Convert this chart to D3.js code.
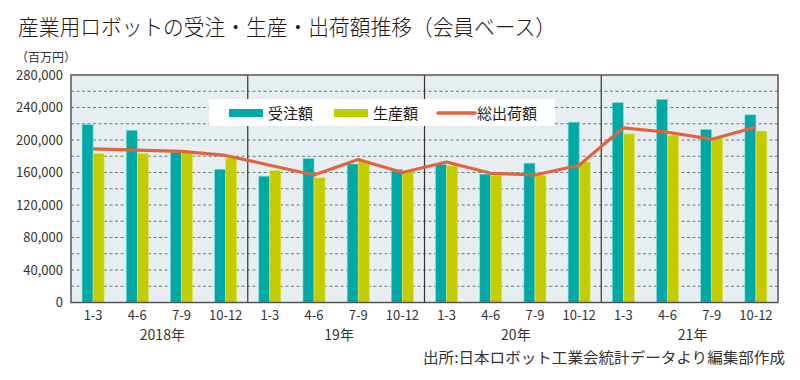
<!DOCTYPE html>
<html><head><meta charset="utf-8">
<script src="https://cdn.jsdelivr.net/npm/d3@7"></script>
<style>
html,body{margin:0;padding:0;background:#fff;}
text{font-family:"Noto Sans CJK JP","Noto Sans",sans-serif;}
</style></head>
<body><svg id="c" width="800" height="380"></svg>
<script>
const quarters = ["1-3","4-6","7-9","10-12","1-3","4-6","7-9","10-12","1-3","4-6","7-9","10-12","1-3","4-6","7-9","10-12"];
const years = ["2018年","19年","20年","21年"];
const orders = [219000,212000,185000,164000,155500,177000,170500,164000,170000,158000,171500,222000,246000,250000,213000,231000];
const production = [183500,183500,185000,178000,162500,153500,174000,161500,168500,156500,156500,173000,207500,206000,203000,211000];
const shipments = [189000,187500,186000,181000,169000,157000,176000,160000,173000,159000,157000,169000,215000,209500,201000,216000];
const yTicks = [0,40000,80000,120000,160000,200000,240000,280000];
const seriesNames = ["受注額","生産額","総出荷額"];
const colors = {orders:"#00a9a5", production:"#c4cc00", line:"#e2643e"};

const svg = d3.select("#c");
const L = 71, R = 778, T = 75, B = 302.5;
const idx = d3.range(quarters.length);
const x = d3.scaleBand().domain(idx).range([L, R]).paddingInner(0).paddingOuter(0);
const y = d3.scaleLinear().domain([0, 280000]).range([B, T]);

// title
svg.append("text").attr("x",18).attr("y",35).attr("font-size",22).attr("font-weight",300).attr("fill","#231815")
  .attr("textLength",538).attr("lengthAdjust","spacingAndGlyphs")
  .text("産業用ロボットの受注・生産・出荷額推移（会員ベース）");
svg.append("text").attr("x",16).attr("y",62).attr("font-size",12).attr("fill","#333")
  .text("（百万円）");

// plot background
svg.append("rect").attr("x",L).attr("y",T).attr("width",R-L).attr("height",B-T).attr("fill","#e6eef2");

// gridlines every 20000
const grid = d3.range(20000, 280000, 20000);
svg.append("g").selectAll("line").data(grid).join("line")
  .attr("x1",L).attr("x2",R).attr("y1",d=>y(d)).attr("y2",d=>y(d))
  .attr("stroke","#555").attr("stroke-width",0.8).attr("stroke-dasharray","3,2.5");

// y axis labels
const yAxis = d3.axisLeft(y).tickValues(yTicks).tickSize(0).tickPadding(8).tickFormat(d3.format(","));
const ga = svg.append("g").attr("transform",`translate(${L},0)`).call(yAxis);
ga.select(".domain").remove();
ga.selectAll("text").attr("font-size",13).attr("fill","#333").attr("font-family","'Liberation Sans',Arial,sans-serif");

// bars
const bw = x.bandwidth()*0.25;
const g = svg.append("g");
g.selectAll("rect.o").data(orders).join("rect").attr("class","o")
  .attr("x",(d,i)=>x(i)+x.bandwidth()/2-bw).attr("width",bw)
  .attr("y",d=>y(d)).attr("height",d=>B-y(d))
  .attr("fill",colors.orders).attr("stroke","#7fe3e0").attr("stroke-width",0.6);
g.selectAll("rect.p").data(production).join("rect").attr("class","p")
  .attr("x",(d,i)=>x(i)+x.bandwidth()/2).attr("width",bw)
  .attr("y",d=>y(d)).attr("height",d=>B-y(d))
  .attr("fill",colors.production).attr("stroke","#e3ea6a").attr("stroke-width",0.6);

// year separators
svg.append("g").selectAll("line").data([4,8,12]).join("line")
  .attr("x1",d=>x(d)).attr("x2",d=>x(d)).attr("y1",T).attr("y2",B)
  .attr("stroke","#333").attr("stroke-width",1.2);

// line
const line = d3.line().x((d,i)=>x(i)+x.bandwidth()/2).y(d=>y(d));
svg.append("path").datum(shipments).attr("d",line).attr("fill","none")
  .attr("stroke",colors.line).attr("stroke-width",3.2).attr("stroke-linejoin","round");

// border
svg.append("rect").attr("x",L).attr("y",T).attr("width",R-L).attr("height",B-T)
  .attr("fill","none").attr("stroke","#555").attr("stroke-width",1.5);

// x labels
const xAxis = d3.axisBottom(x).tickSize(0).tickPadding(8).tickFormat(i=>quarters[i]);
const gx = svg.append("g").attr("transform",`translate(0,${B})`).call(xAxis);
gx.select(".domain").remove();
gx.selectAll("text").attr("font-size",13).attr("fill","#333").attr("font-family","'Liberation Sans',Arial,sans-serif");
svg.append("g").selectAll("text").data(years).join("text")
  .attr("x",(d,i)=>(x(i*4)+x(i*4+3)+x.bandwidth())/2+3).attr("y",340)
  .attr("text-anchor","middle").attr("font-size",14).attr("fill","#333").text(d=>d);

// legend
const lg = svg.append("g");
lg.append("rect").attr("x",209).attr("y",99).attr("width",346).attr("height",27).attr("fill","#fff");
const items = [
  {name:seriesNames[0], type:"bar", color:colors.orders, x:229},
  {name:seriesNames[1], type:"bar", color:colors.production, x:334},
  {name:seriesNames[2], type:"line", color:colors.line, x:438}
];
items.forEach(it=>{
  if(it.type==="bar"){
    lg.append("rect").attr("x",it.x).attr("y",109).attr("width",34).attr("height",8).attr("fill",it.color);
  } else {
    lg.append("line").attr("x1",it.x).attr("x2",it.x+37).attr("y1",113).attr("y2",113)
      .attr("stroke",it.color).attr("stroke-width",3.5).attr("stroke-linecap","round");
  }
  lg.append("text").attr("x",it.x+39).attr("y",119).attr("font-size",15).attr("fill","#231815").text(it.name);
});

// source
svg.append("text").attr("x",785).attr("y",363).attr("text-anchor","end").attr("font-size",15).attr("fill","#333")
  .attr("textLength",362).attr("lengthAdjust","spacingAndGlyphs")
  .text("出所:日本ロボット工業会統計データより編集部作成");
</script></body></html>
